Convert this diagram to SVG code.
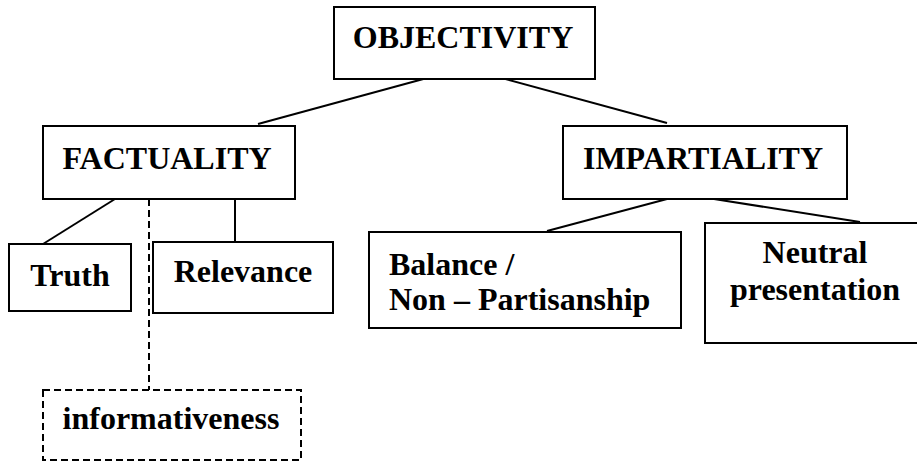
<svg xmlns="http://www.w3.org/2000/svg" width="917" height="462" viewBox="0 0 917 462">
<style>
.box{fill:#fff;stroke:#000;stroke-width:2}
.dash{fill:#fff;stroke:#000;stroke-width:2;stroke-dasharray:7 4}
.t{font-family:"Liberation Serif","Times New Roman",serif;font-weight:bold;font-size:32px;fill:#000}
.m{text-anchor:middle}
.c{stroke:#000;stroke-width:2;fill:none}
.cd{stroke:#000;stroke-width:2;fill:none;stroke-dasharray:7 4}
</style>
<rect width="917" height="462" fill="#fff"/>
<g id="connectors">
<line class="c" x1="427" y1="78" x2="258" y2="124"/>
<line class="c" x1="498" y1="77" x2="667" y2="123"/>
<line class="c" x1="115" y1="199" x2="43" y2="244"/>
<line class="cd" x1="149" y1="199" x2="149" y2="390"/>
<line class="c" x1="235" y1="199" x2="235" y2="243"/>
<line class="c" x1="667" y1="199" x2="547" y2="231"/>
<line class="c" x1="714" y1="199" x2="860" y2="222"/>
</g>
<g id="objectivity">
<rect class="box" x="334" y="7" width="261" height="72"/>
<text class="t m" x="463" y="48">OBJECTIVITY</text>
</g>
<g id="factuality">
<rect class="box" x="43" y="126" width="252" height="73"/>
<text class="t m" x="167" y="169">FACTUALITY</text>
</g>
<g id="impartiality">
<rect class="box" x="563" y="126" width="284" height="73"/>
<text class="t m" x="703" y="169">IMPARTIALITY</text>
</g>
<g id="truth">
<rect class="box" x="9" y="244" width="122" height="67"/>
<text class="t m" x="70" y="286">Truth</text>
</g>
<g id="relevance">
<rect class="box" x="153" y="242" width="180" height="71"/>
<text class="t m" x="243" y="282">Relevance</text>
</g>
<g id="balance">
<rect class="box" x="369" y="232" width="312" height="96"/>
<text class="t" x="389" y="275">Balance /</text>
<text class="t" x="389" y="310">Non – Partisanship</text>
</g>
<g id="neutral">
<rect class="box" x="705" y="223" width="222" height="120"/>
<text class="t m" x="815" y="263">Neutral</text>
<text class="t m" x="815" y="300">presentation</text>
</g>
<g id="informativeness">
<rect class="dash" x="43" y="390" width="258" height="70"/>
<text class="t m" x="171" y="429">informativeness</text>
</g>
</svg>
